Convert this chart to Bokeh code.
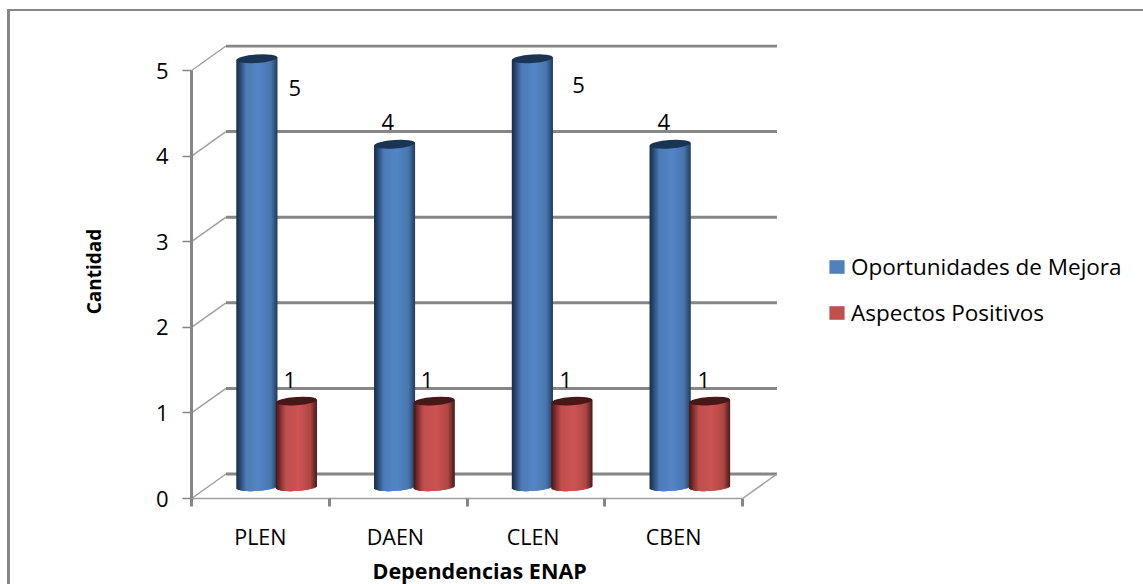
from bokeh.embed import file_html
from bokeh.models import (ColumnDataSource, FixedTicker, InlineStyleSheet, Legend, LegendItem,
                          LinearAxis, Range1d, Title)
from bokeh.plotting import figure
from bokeh.resources import INLINE
from bokeh.core.properties import value

# Chart content
categories = ["PLEN", "DAEN", "CLEN", "CBEN"]
oportunidades = [5, 4, 5, 4]
aspectos = [1, 1, 1, 1]
series_names = ["Oportunidades de Mejora", "Aspectos Positivos"]
y_ticks = [0, 1, 2, 3, 4, 5]
y_title = "Cantidad"
x_title = "Dependencias ENAP"

# Styling
FONT = "Open Sans"
GRAY = "#868686"
PX_X = 137.75   # pixels per category
PX_Y = 85.6     # pixels per unit
DEPTH_X = 34.5 / PX_X
DEPTH_Y = 24.5 / PX_Y
BASE_Y = 11.8 / PX_Y   # cylinders stand part-way into the floor


def mix(a, b, t):
    return "#" + "".join(f"{round(a[i] + (b[i] - a[i]) * t):02x}" for i in range(3))


def shade(stops, t):
    for (t0, c0), (t1, c1) in zip(stops, stops[1:]):
        if t <= t1:
            return mix(c0, c1, (t - t0) / (t1 - t0))
    return mix(stops[-1][1], stops[-1][1], 0)


BLUE_STOPS = [(0, (24, 42, 68)), (0.1, (42, 76, 118)), (0.24, (76, 124, 184)), (0.55, (84, 134, 198)),
              (0.84, (72, 118, 174)), (0.95, (46, 80, 122)), (1, (34, 58, 92))]
RED_STOPS = [(0, (66, 22, 20)), (0.1, (126, 46, 44)), (0.24, (192, 80, 77)), (0.55, (204, 84, 82)),
             (0.84, (176, 70, 68)), (0.95, (104, 42, 40)), (1, (72, 28, 26))]

# The plot frame runs to the page's right edge so the legend can sit inside it
p = figure(width=1143, height=584, output_backend="svg", toolbar_location=None,
           x_range=Range1d(0, 952 / PX_X), y_range=Range1d(0, 454 / PX_Y),
           x_axis_type=None, y_axis_type=None,
           min_border_left=191, min_border_right=0, min_border_top=44, min_border_bottom=86,
           background_fill_color="white", border_fill_color="white", outline_line_color=None)
p.grid.visible = False

# The chart area's border runs off the page on the right and below
p.stylesheets = [InlineStyleSheet(css=f""":host::after {{
    content: ""; position: absolute; left: 7px; top: 9px; width: 1136px; height: 575px;
    box-sizing: border-box; border-top: 2px solid {GRAY}; border-left: 3px solid {GRAY};
    pointer-events: none;
}}""")]

# Axes
yaxis = LinearAxis(ticker=FixedTicker(ticks=y_ticks), bounds=(0, 5),
                   axis_label=y_title, axis_label_standoff=46,
                   axis_label_text_font=FONT, axis_label_text_font_style="bold",
                   axis_label_text_font_size="19px", axis_label_text_color="black",
                   major_label_text_font=FONT, major_label_text_font_size="22px",
                   major_label_text_color="black", major_label_standoff=14,
                   axis_line_color=GRAY, axis_line_width=3,
                   major_tick_line_color=GRAY, major_tick_line_width=1.5,
                   major_tick_in=0, major_tick_out=9, minor_tick_line_color=None)
p.add_layout(yaxis, "left")

label_positions = [0.5, 1.48, 2.48, 3.5]
xaxis = LinearAxis(ticker=FixedTicker(ticks=label_positions, minor_ticks=[0, 1, 2, 3, 4]),
                   bounds=(0, 4),
                   major_label_overrides=dict(zip(label_positions, categories)),
                   major_label_text_font=FONT, major_label_text_font_size="21.5px",
                   major_label_text_color="black", major_label_standoff=15,
                   axis_line_color="#a0a0a0", axis_line_width=1.5,
                   major_tick_line_color=None, major_tick_in=0, major_tick_out=0,
                   minor_tick_line_color=GRAY, minor_tick_line_width=3,
                   minor_tick_in=0, minor_tick_out=8)
p.add_layout(xaxis, "below")

# Axis title set as a side-panel title so it can sit left of the frame's centre
p.add_layout(Title(text=x_title, align="left", offset=181, standoff=0,
                   text_font=FONT, text_font_style="bold", text_font_size="21.5px",
                   text_color="black"), "below")

# Back wall, side wall and floor of the box
p.segment(x0=[DEPTH_X] * len(y_ticks), x1=[4 + DEPTH_X] * len(y_ticks),
          y0=[v + DEPTH_Y for v in y_ticks], y1=[v + DEPTH_Y for v in y_ticks],
          line_color=GRAY, line_width=3)
p.segment(x0=[0] * len(y_ticks), x1=[DEPTH_X] * len(y_ticks),
          y0=y_ticks, y1=[v + DEPTH_Y for v in y_ticks],
          line_color="#a0a0a0", line_width=1.5)
p.segment(x0=[4], x1=[4 + DEPTH_X], y0=[0], y1=[DEPTH_Y], line_color="#a0a0a0", line_width=1.5)


def cylinder(i, offset, height, stops, top_color):
    """Draw one cylinder as narrow vertical strips with a tilted elliptical cap."""
    half = 20.5
    n = 41
    xs0, xs1, tops, bottoms, colors = [], [], [], [], []
    centre = i + offset
    for k in range(n):
        t = (k + 0.5) / n
        u = 2 * t - 1
        sag = 4.2 * (1 - u * u) ** 0.5
        rise = 1.5 * u
        x0 = centre + (-half + k) / PX_X
        xs0.append(x0)
        # each strip runs under the next one so no seams show between them
        xs1.append(min(x0 + 2.5 / PX_X, centre + half / PX_X))
        tops.append(BASE_Y + height + rise / PX_Y)
        bottoms.append(BASE_Y + (rise - sag) / PX_Y)
        colors.append(shade(stops, t))
    src = ColumnDataSource(dict(x0=xs0, x1=xs1, top=tops, bottom=bottoms, color=colors))
    p.quad(left="x0", right="x1", top="top", bottom="bottom", fill_color="color", line_color=None, source=src)
    p.ellipse(x=[centre], y=[BASE_Y + height], width=41, height=8.4, angle=0.07,
              width_units="screen", height_units="screen", fill_color=top_color, line_color=None)


for i, (a, b) in enumerate(zip(oportunidades, aspectos)):
    cylinder(i, 0.474, a, BLUE_STOPS, "#1a3553")
    cylinder(i, 0.761, b, RED_STOPS, "#481818")

# Value labels, nudged away from the cylinders
label_dx = [0.75, 0.425, 0.81, 0.428]
label_dy = [-0.2, 0.4, -0.175, 0.4]
one_dx = [0.714, 0.709, 0.718, 0.719]
one_dy = [0.38, 0.38, 0.38, 0.38]
p.text(x=[i + d for i, d in enumerate(label_dx)], y=[v + d for v, d in zip(oportunidades, label_dy)],
       text=[str(v) for v in oportunidades], text_font=value(FONT), text_font_size="22px",
       text_color="black", text_align="center", text_baseline="middle")
p.text(x=[i + d for i, d in enumerate(one_dx)], y=[v + d for v, d in zip(aspectos, one_dy)],
       text=[str(v) for v in aspectos], text_font=value(FONT), text_font_size="22px",
       text_color="black", text_align="center", text_baseline="middle")

# Legend, inside the frame to the right of the box
nan = float("nan")
swatch_a = p.quad(left=[nan], right=[nan], top=[nan], bottom=[nan], fill_color="#4f81bd", line_color=None)
swatch_b = p.quad(left=[nan], right=[nan], top=[nan], bottom=[nan], fill_color="#c0504d", line_color=None)
legend = Legend(items=[LegendItem(label=series_names[0], renderers=[swatch_a]),
                       LegendItem(label=series_names[1], renderers=[swatch_b])],
                location=(636, 170), orientation="vertical", border_line_color=None,
                background_fill_alpha=0, label_text_font=FONT, label_text_font_size="22.5px",
                label_text_color="black", glyph_width=19, glyph_height=17, spacing=15,
                label_standoff=5, margin=0, padding=0)
p.add_layout(legend, "center")

open("out.html", "w").write(file_html(p, INLINE))
